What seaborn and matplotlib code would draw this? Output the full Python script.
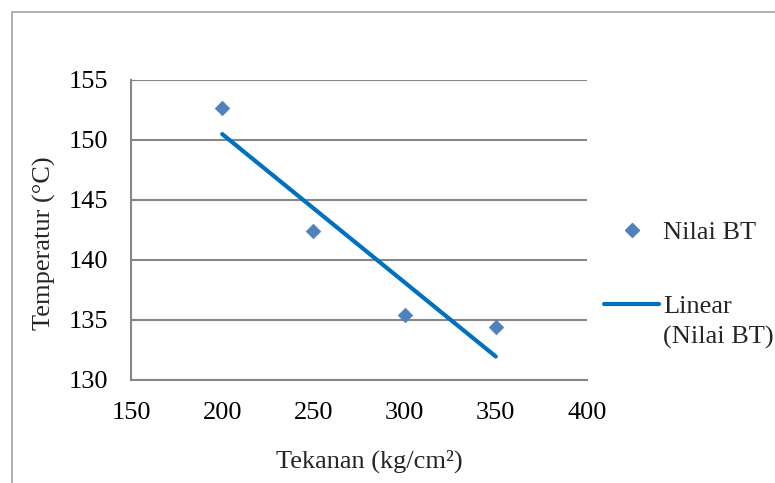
import numpy as np
import pandas as pd
import seaborn as sns
import matplotlib
matplotlib.use("Agg")
import matplotlib.pyplot as plt
from matplotlib.lines import Line2D
from matplotlib.patches import Rectangle

# Data
tekanan = [200, 250, 300, 350]
temperatur = [152.65, 142.45, 135.4, 134.4]
x_ticks = [150, 200, 250, 300, 350, 400]
y_ticks = [130, 135, 140, 145, 150, 155]
series_label = "Nilai BT"
trend_label_1 = "Linear"
trend_label_2 = "(Nilai BT)"

df = pd.DataFrame({"Tekanan": tekanan, "Temperatur": temperatur})

sns.set_theme(style="white")
plt.rcParams["font.family"] = ["Liberation Serif", "DejaVu Serif"]
FS = 19

fig = plt.figure(figsize=(7.75, 4.83), dpi=100)
ax = fig.add_axes([131 / 775, 103 / 483, 456 / 775, 300 / 483])

# outer border
fig.patches.append(Rectangle((11.5 / 775, -0.05), 1.1, 1 - 12 / 483 + 0.05,
                             transform=fig.transFigure, fill=False,
                             edgecolor="#9a9a9a", linewidth=1.1))

grid_c = "#878787"
for yt in y_ticks:
    ax.axhline(yt, color=grid_c, linewidth=1.5, zorder=0)

sns.regplot(data=df, x="Tekanan", y="Temperatur", ax=ax, scatter=False, ci=None,
            line_kws=dict(color="#0070C0", linewidth=3.0, solid_capstyle="round", zorder=2))
sns.scatterplot(data=df, x="Tekanan", y="Temperatur", ax=ax, marker="D", s=55,
                color="#4F81BD", edgecolor="#4F81BD", linewidth=0.5, zorder=3, legend=False)

ax.set_xlim(150, 400)
ax.set_ylim(130, 155)
ax.set_xticks(x_ticks)
ax.set_yticks(y_ticks)
ax.tick_params(axis="both", labelsize=FS, colors="black", length=4.5, width=1.5,
               direction="out", color=grid_c)
ax.tick_params(axis="x", pad=11)
ax.tick_params(axis="y", pad=12)
for s in ["top", "right"]:
    ax.spines[s].set_visible(False)
for s in ["left", "bottom"]:
    ax.spines[s].set_color(grid_c)
    ax.spines[s].set_linewidth(1.5)

ax.set_xlabel("Tekanan (kg/cm²)", fontsize=FS)
ax.set_ylabel("Temperatur (°C)", fontsize=FS)
ax.xaxis.set_label_coords(0.522, -0.232)
ax.yaxis.set_label_coords(-0.165, 0.455)

# legend (drawn manually to match the Excel-style layout)
ax.add_line(Line2D([1.099], [0.5], marker="D", linestyle="none", color="#4F81BD",
                   markersize=7, transform=ax.transAxes, clip_on=False))
ax.add_line(Line2D([1.037, 1.158], [0.253, 0.253], color="#0070C0", linewidth=3.0,
                   solid_capstyle="round", transform=ax.transAxes, clip_on=False))
ax.text(1.167, 0.47, series_label, transform=ax.transAxes, fontsize=FS, va="baseline", ha="left")
ax.text(1.167, 0.223, trend_label_1, transform=ax.transAxes, fontsize=FS, va="baseline", ha="left")
ax.text(1.167, 0.123, trend_label_2, transform=ax.transAxes, fontsize=FS, va="baseline", ha="left")

fig.savefig("out.png", dpi=100, facecolor="white")
